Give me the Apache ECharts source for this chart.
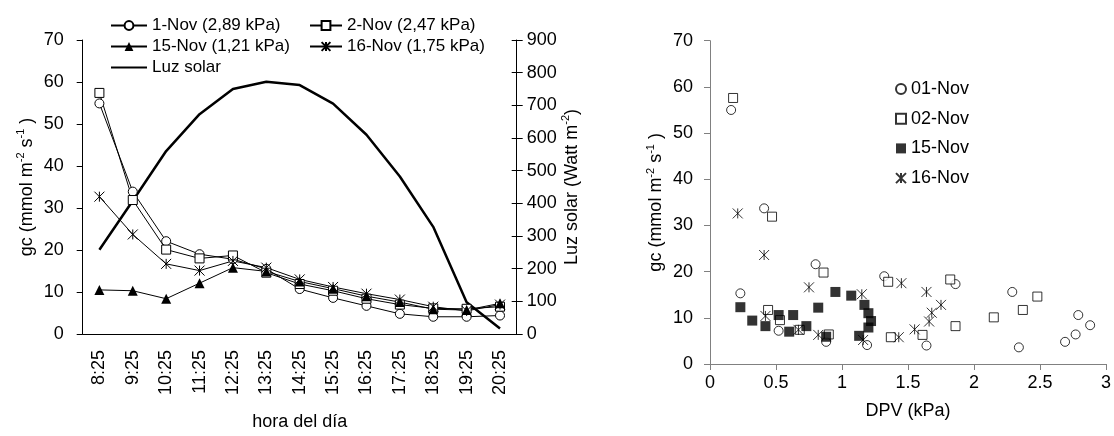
<!DOCTYPE html>
<html><head><meta charset="utf-8">
<script src="https://cdn.jsdelivr.net/npm/echarts@6/dist/echarts.min.js"></script>
<style>html,body{margin:0;padding:0;background:#fff}#c{width:1114px;height:436px}</style>
</head><body><div id="c"></div>
<script>
// ---- Left chart data ----
const categories = ['8:25','9:25','10:25','11:25','12:25','13:25','14:25','15:25','16:25','17:25','18:25','19:25','20:25'];
const nov1  = [54.9, 33.9, 22.1, 19.0, 17.8, 15.5, 10.7, 8.6, 6.7, 4.8, 4.1, 4.1, 4.4];
const nov2  = [57.4, 31.9, 20.1, 18.0, 18.7, 14.6, 11.9, 10.3, 8.4, 7.0, 6.1, 6.0, 6.5];
const nov15 = [10.5, 10.3, 8.4, 12.1, 15.8, 14.9, 12.5, 10.8, 9.0, 7.6, 5.9, 5.7, 7.3];
const nov16 = [32.7, 23.7, 16.7, 15.1, 17.4, 15.8, 13.0, 11.2, 9.6, 8.2, 6.5, 5.5, 7.0];
const luz   = [258, 408, 560, 673, 750, 772, 762, 705, 610, 482, 328, 97, 17];
const leftNames = ['1-Nov (2,89 kPa)', '2-Nov (2,47 kPa)', '15-Nov (1,21 kPa)', '16-Nov (1,75 kPa)', 'Luz solar'];

// ---- Right chart data: [DPV (kPa), gc] ----
const sc01 = [[0.16,55.0],[0.41,33.7],[0.80,21.6],[0.23,15.3],[0.52,7.2],[0.88,4.8],[1.19,4.1],[1.32,19.0],
              [1.86,17.3],[1.64,4.0],[2.29,15.6],[2.34,3.6],[2.79,10.6],[2.88,8.4],[2.77,6.4],[2.69,4.8]];
const sc02 = [[0.175,57.6],[0.47,31.9],[0.86,19.8],[1.35,17.8],[1.82,18.3],[0.44,11.7],[0.53,9.5],[0.68,7.4],
              [0.90,6.4],[1.37,5.8],[1.61,6.3],[1.86,8.2],[2.15,10.1],[2.37,11.7],[2.48,14.6]];
const sc15 = [[0.23,12.3],[0.32,9.4],[0.42,8.2],[0.52,10.6],[0.63,10.6],[0.60,7.0],[0.73,8.2],[0.82,12.2],
              [0.95,15.6],[1.07,14.8],[1.17,12.8],[1.20,11.0],[1.22,9.3],[1.20,7.9],[0.88,5.9],[1.13,6.1]];
const sc16 = [[0.21,32.6],[0.41,23.6],[0.75,16.6],[1.15,15.1],[1.45,17.5],[0.42,10.4],[0.67,7.4],[0.82,6.3],
              [1.16,5.2],[1.64,15.6],[1.75,12.8],[1.68,11.1],[1.66,9.2],[1.55,7.5],[1.43,5.8]];
const rightNames = ['01-Nov','02-Nov','15-Nov','16-Nov'];

const FONT = 'Liberation Sans, Arial, sans-serif';
const ASTER = 'path://M0 0L10 10M10 0L0 10M5 0L5 10';
const supRich = { s: { fontSize: 11, verticalAlign: 'top', fontFamily: FONT, color: '#000' } };

const hollow = {color: '#fff', borderColor: '#000', borderWidth: 1};
const aster = {color: 'rgba(0,0,0,0)', borderColor: '#000', borderWidth: 1};

function lineSeries(name, data, symbol, size, itemStyle) {
  return {
    name, type: 'line', data, xAxisIndex: 0, yAxisIndex: 0,
    symbol, symbolSize: size, showSymbol: true,
    lineStyle: {color: '#000', width: 1},
    itemStyle, emphasis: {disabled: true}, animation: false
  };
}
function scatterSeries(name, data, symbol, size, itemStyle) {
  return {
    name, type: 'scatter', data, xAxisIndex: 1, yAxisIndex: 2,
    symbol, symbolSize: size, itemStyle, emphasis: {disabled: true}, animation: false
  };
}
const legText = {fontSize: 17, lineHeight: 21, fontFamily: FONT, color: '#000'};

const chart = echarts.init(document.getElementById('c'), null, {renderer: 'canvas'});
chart.setOption({
  backgroundColor: '#fff',
  animation: false,
  textStyle: {fontFamily: FONT, color: '#000'},
  legend: [
    {data: [leftNames[0], leftNames[2], {name: leftNames[4], itemStyle: {opacity: 0}}], orient: 'vertical', left: 105, top: 10,
     itemWidth: 36, itemHeight: 11, itemGap: 0, textStyle: legText, selectedMode: false},
    {data: [leftNames[1], leftNames[3]], orient: 'vertical', left: 304, top: 10,
     itemWidth: 32, itemHeight: 11, itemGap: 0, textStyle: legText, selectedMode: false},
    {data: rightNames, orient: 'vertical', left: 890, top: 74,
     itemWidth: 10, itemHeight: 10, itemGap: 9.7, textStyle: {fontSize: 18, lineHeight: 20, fontFamily: FONT, color: '#000'},
     selectedMode: false}
  ],
  grid: [
    {left: 82.7, right: 597.3, top: 40, bottom: 91},
    {left: 710, right: 5, top: 40.7, bottom: 72}
  ],
  xAxis: [
    {type: 'category', gridIndex: 0, data: categories, boundaryGap: true,
     name: 'hora del día', nameLocation: 'middle', nameGap: 79,
     nameTextStyle: {fontSize: 18, fontFamily: FONT, color: '#000'},
     axisLine: {lineStyle: {color: '#000', width: 1}},
     axisTick: {alignWithLabel: false, length: 6, lineStyle: {color: '#000'}},
     axisLabel: {rotate: 90, fontSize: 18, margin: 16, color: '#000', fontFamily: FONT, interval: 0},
     splitLine: {show: false}},
    {type: 'value', gridIndex: 1, min: 0, max: 3, interval: 0.5,
     name: 'DPV (kPa)', nameLocation: 'middle', nameGap: 38,
     nameTextStyle: {fontSize: 18, fontFamily: FONT, color: '#000'},
     axisLine: {onZero: false, lineStyle: {color: '#808080', width: 1}},
     axisTick: {length: 6, lineStyle: {color: '#808080'}},
     axisLabel: {fontSize: 18, margin: 10, color: '#000', fontFamily: FONT},
     splitLine: {show: false}}
  ],
  yAxis: [
    {type: 'value', gridIndex: 0, min: 0, max: 70, interval: 10, position: 'left',
     name: 'gc (mmol m{s|-2} s{s|-1} )', nameLocation: 'middle', nameGap: 45, nameRotate: 90,
     nameTextStyle: {fontSize: 18, fontFamily: FONT, color: '#000', lineHeight: 22, rich: supRich},
     axisLine: {show: true, lineStyle: {color: '#000', width: 1}},
     axisTick: {show: true, length: 6, lineStyle: {color: '#000'}},
     axisLabel: {fontSize: 18, margin: 19, color: '#000', fontFamily: FONT},
     splitLine: {show: false}},
    {type: 'value', gridIndex: 0, min: 0, max: 900, interval: 100, position: 'right',
     name: 'Luz solar (Watt m{s|-2})', nameLocation: 'middle', nameGap: 35, nameRotate: 90,
     nameTextStyle: {fontSize: 18, fontFamily: FONT, color: '#000', lineHeight: 22, rich: supRich},
     axisLine: {show: true, lineStyle: {color: '#000', width: 1}},
     axisTick: {show: true, length: 6, lineStyle: {color: '#000'}},
     axisLabel: {fontSize: 18, margin: 10, color: '#000', fontFamily: FONT},
     splitLine: {show: false}},
    {type: 'value', gridIndex: 1, min: 0, max: 70, interval: 10,
     name: 'gc (mmol m{s|-2} s{s|-1} )', nameLocation: 'middle', nameGap: 43, nameRotate: 90,
     nameTextStyle: {fontSize: 18, fontFamily: FONT, color: '#000', lineHeight: 22, rich: supRich},
     axisLine: {show: true, lineStyle: {color: '#808080', width: 1}},
     axisTick: {show: true, length: 6, lineStyle: {color: '#808080'}},
     axisLabel: {fontSize: 18, margin: 17, color: '#000', fontFamily: FONT},
     splitLine: {show: false}},
    // inner half of the crossing ticks on the secondary (right) axis of the left chart
    {type: 'value', gridIndex: 0, min: 0, max: 900, interval: 100, position: 'right',
     axisLine: {show: false}, axisLabel: {show: false}, splitLine: {show: false},
     axisTick: {show: true, inside: true, length: 5, lineStyle: {color: '#000'}}}
  ],
  series: [
    lineSeries(leftNames[0], nov1, 'circle', 9, hollow),
    lineSeries(leftNames[1], nov2, 'rect', 9, hollow),
    lineSeries(leftNames[2], nov15, 'triangle', 10, {color: '#000', borderColor: '#000', borderWidth: 0}),
    lineSeries(leftNames[3], nov16, ASTER, 10, aster),
    {name: leftNames[4], type: 'line', data: luz, xAxisIndex: 0, yAxisIndex: 1, showSymbol: false, symbol: 'none',
     lineStyle: {color: '#000', width: 2.5}, itemStyle: {color: '#000'}, emphasis: {disabled: true}, animation: false},
    scatterSeries(rightNames[0], sc01, 'circle', 9, hollow),
    scatterSeries(rightNames[1], sc02, 'rect', 9, hollow),
    scatterSeries(rightNames[2], sc15, 'rect', 10, {color: '#000', borderColor: '#000', borderWidth: 0}),
    scatterSeries(rightNames[3], sc16, ASTER, 10, aster)
  ]
});
</script>
</body></html>
